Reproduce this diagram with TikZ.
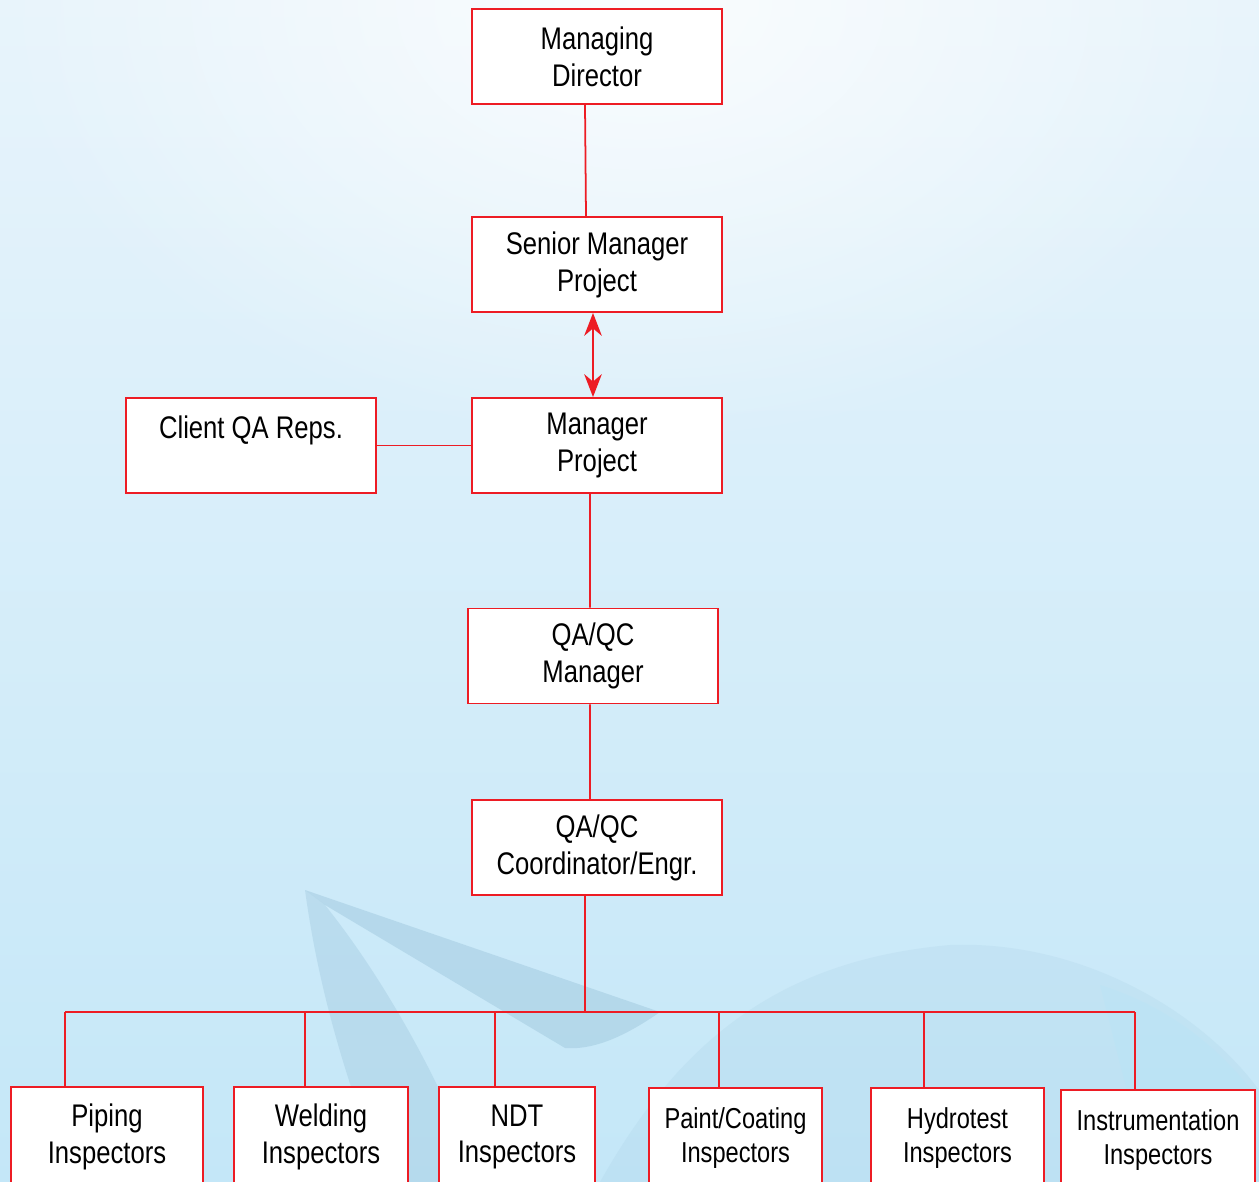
\documentclass[tikz,border=0pt]{standalone}
\usepackage{fontspec}
\setmainfont{Liberation Sans}[FakeStretch=0.82]
\usetikzlibrary{arrows.meta,fadings}
\tikzfading[name=glow,inner color=transparent!0,outer color=transparent!100]
\definecolor{boxred}{RGB}{237,28,36}
\definecolor{skytop}{RGB}{232,244,251}
\definecolor{skybot}{RGB}{196,231,248}
\definecolor{swoosh}{RGB}{160,200,222}
\begin{document}
\begin{tikzpicture}[x=0.02cm,y=-0.02cm,>={Stealth[length=13pt,width=10pt]},
	box/.style={draw=boxred,line width=1.1pt,fill=white,align=center,
		minimum width=5cm,minimum height=1.9cm,font=\fontsize{17.8}{21}\selectfont},
	ibox/.style={box,minimum height=2cm},
	link/.style={draw=boxred,line width=1pt}]
	% background
	\clip (0,0) rectangle (1259,1182);
	\shade[top color=skytop,bottom color=skybot] (0,0) rectangle (1259,1182);
	\fill[white,opacity=0.8,path fading=glow] (640,0) ellipse (650 and 450);
	\fill[swoosh,opacity=0.5] (305,890) -- (660,1012) .. controls (620,1040) and (590,1050) .. (565,1048) -- (325,905) -- cycle;
	\fill[swoosh,opacity=0.4] (305,890) .. controls (320,1000) and (350,1090) .. (385,1182) -- (480,1182) .. controls (440,1080) and (385,980) .. (325,905) -- cycle;
	\fill[swoosh,opacity=0.18] (600,1182) .. controls (680,1040) and (780,960) .. (950,945) .. controls (1080,940) and (1200,1010) .. (1259,1090) -- (1259,1182) -- cycle;
	\fill[cyan!30,opacity=0.25] (1100,985) .. controls (1180,1010) and (1230,1060) .. (1259,1100) -- (1259,1182) -- (1150,1182) -- cycle;
	% boxes
	\node[box] (md) at (597,56.5) {Managing\\Director};
	\node[box] (smp) at (597,264.5) {Senior Manager\\Project};
	\node[box] (mp) at (597,445.5) {Manager\\Project};
	\node[box] (cl) at (251,445.5) {Client QA Reps.\\\mbox{}};
	\node[box] (qam) at (593,656) {QA/QC\\Manager};
	\node[box] (qce) at (597,847.5) {QA/QC\\Coordinator/Engr.};
	\node[ibox,minimum width=3.84cm] (pip) at (107,1137) {Piping\\Inspectors};
	\node[ibox,minimum width=3.48cm] (wel) at (321,1137) {Welding\\Inspectors};
	\node[ibox,minimum width=3.12cm] (ndt) at (517,1137) {NDT\\Inspectors};
	\node[ibox,minimum width=3.46cm,font=\fontsize{16.4}{19}\selectfont] (pnt) at (735.5,1138) {Paint/Coating\\Inspectors};
	\node[ibox,minimum width=3.46cm,font=\fontsize{16.4}{19}\selectfont] (hyd) at (957.5,1138) {Hydrotest\\Inspectors};
	\node[ibox,minimum width=3.88cm,font=\fontsize{16.4}{19}\selectfont] (ins) at (1158,1140) {Instrumentation\\Inspectors};
	\coordinate (bus) at (585,1012);
	% connectors
	\draw[link] ([xshift=-0.24cm]md.south) -- ([xshift=-0.22cm]smp.north);
	\draw[link,line width=1.4pt,<->] ([xshift=-0.08cm]smp.south) -- ([xshift=-0.08cm]mp.north);
	\draw[link] (cl.east) -- (mp.west);
	\draw[link] ([xshift=-0.14cm]mp.south) -- ([xshift=-0.06cm]qam.north);
	\draw[link] ([xshift=-0.06cm]qam.south) -- ([xshift=-0.14cm]qce.north);
	\draw[link] ([xshift=-0.24cm]qce.south) -- (bus);
	\draw[link] ([xshift=-0.84cm]pip.north |- bus) -- ([xshift=-0.46cm]ins.north |- bus);
	\foreach \b/\s in {pip/-0.84,wel/-0.32,ndt/-0.44,pnt/-0.33,hyd/-0.67,ins/-0.46}
		\draw[link] ([xshift=\s cm]\b.north) -- ([xshift=\s cm]\b.north |- bus);
\end{tikzpicture}
\end{document}
